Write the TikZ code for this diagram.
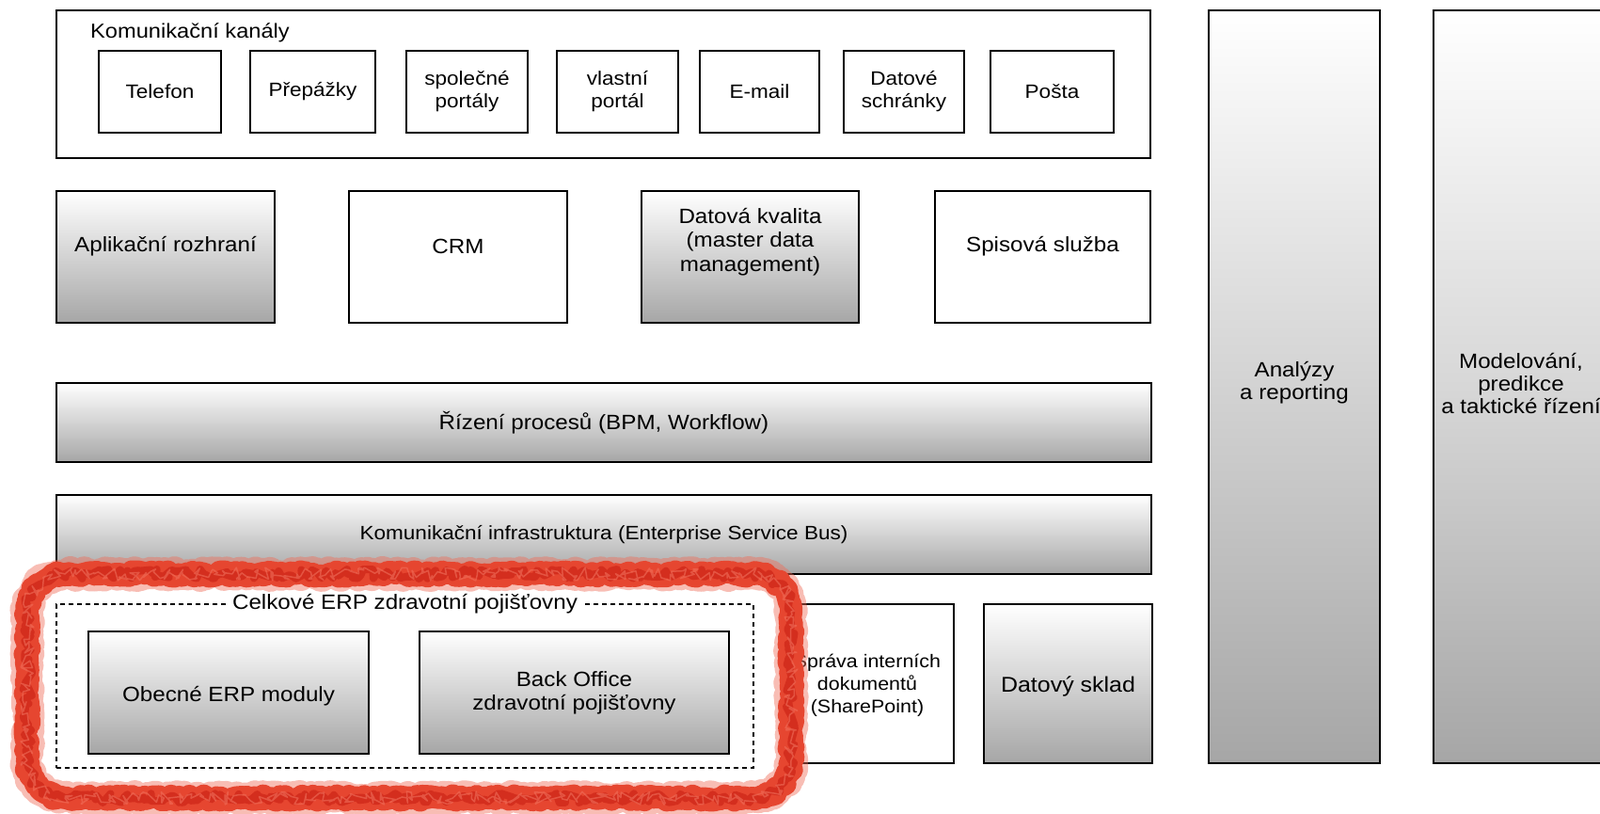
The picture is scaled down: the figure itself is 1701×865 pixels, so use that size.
\documentclass[tikz,border=0pt]{standalone}
\usepackage{fontspec}
\setmainfont[FakeStretch=1.1]{Liberation Sans}
\usetikzlibrary{decorations.pathmorphing}
\definecolor{gbot}{RGB}{166,166,166}
\definecolor{redband}{RGB}{230,70,48}
\definecolor{reddark}{RGB}{212,46,30}
\definecolor{redlight}{RGB}{240,110,90}
\begin{document}
\begin{tikzpicture}[x=1pt,y=-1pt,
  box/.style={draw, line width=2.2pt, inner sep=2pt, outer sep=0pt, anchor=north west, align=center, font=\fontsize{22}{25}\selectfont},
  sbox/.style={box, font=\fontsize{20.5}{24}\selectfont},
  gbox/.style={box, top color=white, bottom color=gbot},
  lbl/.style={inner sep=1pt, font=\fontsize{22}{25}\selectfont, align=center},
  dashbox/.style={draw, line width=1.8pt, dash pattern=on 5pt off 4pt, anchor=north west, inner sep=0pt, outer sep=0pt},
  rough/.style={decorate, decoration={random steps, segment length=3pt, amplitude=2.5pt}, line cap=round, line join=round}]
\useasboundingbox (0,0) rectangle (1701,865);
\fill[white] (0,0) rectangle (1701,865);

% communication channels
\node[box, minimum width=1163pt, minimum height=157pt] (kk) at (60,11) {};
\node[lbl, anchor=west, font=\fontsize{21.5}{25}\selectfont] (kkl) at (95,35) {Komunikační kanály};
\node[sbox, minimum width=130pt, minimum height=87pt] (tel) at (105,54) {Telefon};
\node[sbox, minimum width=133pt, minimum height=87pt] (pre) at (266,54) {Přepážky};
\node[sbox, minimum width=129pt, minimum height=87pt] (spo) at (432,54) {společné\\portály};
\node[sbox, minimum width=129pt, minimum height=87pt] (vla) at (592,54) {vlastní\\portál};
\node[sbox, minimum width=127pt, minimum height=87pt] (eml) at (744,54) {E-mail};
\node[sbox, minimum width=128pt, minimum height=87pt] (dat) at (897,54) {Datové\\schránky};
\node[sbox, minimum width=131pt, minimum height=87pt] (pos) at (1053,54) {Pošta};

% row 2
\node[gbox, minimum width=232pt, minimum height=140pt] (apl) at (60,203) {};
\node[box, minimum width=232pt, minimum height=140pt] (crm) at (371,203) {};
\node[gbox, minimum width=231pt, minimum height=140pt] (dkv) at (682,203) {};
\node[box, minimum width=229pt, minimum height=140pt] (sps) at (994,203) {};
\node[lbl] (aplt) at (176,262) {Aplikační rozhraní};
\node[lbl] (crmt) at (487,262) {CRM};
\node[lbl, font=\fontsize{22}{25.5}\selectfont] (dkvt) at (797.5,257) {Datová kvalita\\(master data\\management)};
\node[lbl] (spst) at (1108.5,262) {Spisová služba};

% rows 3 and 4
\node[gbox, minimum width=1164pt, minimum height=84pt] (bpm) at (60,407) {Řízení procesů (BPM, Workflow)};
\node[gbox, minimum width=1164pt, minimum height=84pt, font=\fontsize{20.5}{24}\selectfont] (esb) at (60,526) {Komunikační infrastruktura (Enterprise Service Bus)};

% row 5
\node[dashbox, minimum width=741pt, minimum height=174pt] (erp) at (60,642) {};
\node[lbl, fill=white, inner sep=4pt] (erpl) at (erp.north) {Celkové ERP zdravotní pojišťovny};
\node[gbox, minimum width=298pt, minimum height=130pt] (obe) at (94,671) {};
\node[lbl] (obet) at (243,740) {Obecné ERP moduly};
\node[gbox, minimum width=329pt, minimum height=130pt] (bof) at (446,671) {Back Office\\zdravotní pojišťovny};
\node[box, minimum width=182pt, minimum height=169pt] (shp) at (832,642) {};
\node[lbl, font=\fontsize{19.5}{24}\selectfont] (shpt) at (922,728) {Správa interních\\dokumentů\\(SharePoint)};
\node[gbox, minimum width=179pt, minimum height=169pt] (dws) at (1046,642) {};
\node[lbl, font=\fontsize{22.7}{26}\selectfont] (dwst) at (1135.5,729) {Datový sklad};

% right columns
\node[gbox, minimum width=182pt, minimum height=800pt] (ana) at (1285,11) {};
\node[lbl, font=\fontsize{22}{24}\selectfont] (anal) at (1376,407) {Analýzy\\a reporting};
\node[box, minimum width=190pt, minimum height=800pt, top color=white, bottom color=gbot, middle color=gbot!45!white] (mod) at (1524,11) {};
\node[lbl, font=\fontsize{22}{24}\selectfont] (modl) at (1617,408) {Modelování,\\predikce\\a taktické řízení};

% red highlight band
\def\redpath{(69,610) -- (801,610) .. controls (823,610) and (841,628) .. (841,650)
  -- (841,808) .. controls (841,830) and (823,848) .. (801,848)
  -- (69,848) .. controls (47,848) and (29,830) .. (29,808)
  -- (29,650) .. controls (29,628) and (47,610) .. (69,610) -- cycle}
\draw[rough, redlight, line width=30pt, opacity=0.45, decoration={random steps, segment length=2pt, amplitude=4pt}] \redpath;
\draw[rough, redband, line width=24pt] \redpath;
\draw[rough, reddark, line width=8pt, decoration={random steps, segment length=4pt, amplitude=5pt}] \redpath;
\draw[rough, redlight, line width=1.5pt, opacity=0.6, decoration={random steps, segment length=3pt, amplitude=7pt}] \redpath;
\end{tikzpicture}
\end{document}
